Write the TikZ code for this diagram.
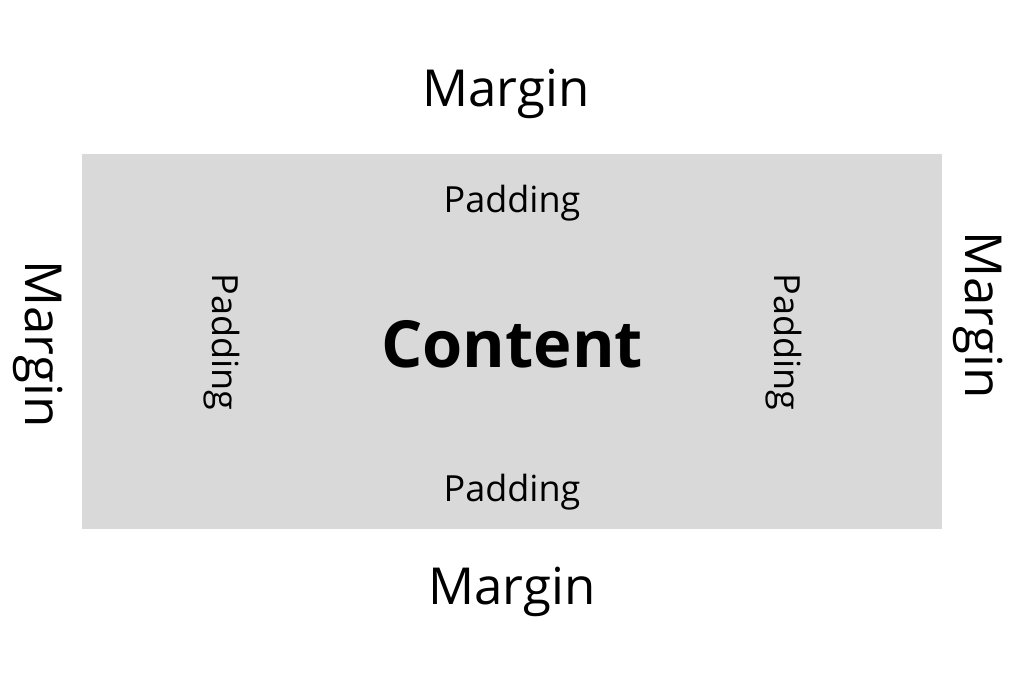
\documentclass[tikz,border=0pt]{standalone}
\usepackage{fontspec}
\setmainfont{Open Sans}
\begin{document}
\begin{tikzpicture}[x=1pt,y=-1pt,
  margintext/.style={font=\fontsize{51}{58}\selectfont, anchor=base, inner sep=0pt},
  paddingtext/.style={font=\fontsize{36}{41}\selectfont, anchor=base, inner sep=0pt},
  contenttext/.style={font=\fontsize{65}{74}\selectfont\bfseries, anchor=base, inner sep=0pt}]
\definecolor{boxgray}{HTML}{D9D9D9}
\useasboundingbox (0,0) rectangle (1024,683);
\fill[white] (0,0) rectangle (1024,683);
% padding box
\fill[boxgray] (82,154) rectangle (942,529);
% content
\node[contenttext] (content) at (512,367) {Content};
% padding labels
\node[paddingtext] (padtop) at (512,212) {Padding};
\node[paddingtext] (padbot) at (512,501) {Padding};
\node[paddingtext, rotate=-90] (padleft) at (212,342) {Padding};
\node[paddingtext, rotate=-90] (padright) at (774,342) {Padding};
% margin labels
\node[margintext] (martop) at (506,106) {Margin};
\node[margintext] (marbot) at (512,604) {Margin};
\node[margintext, rotate=-90] (marleft) at (25,344) {Margin};
\node[margintext, rotate=-90] (marright) at (965,315) {Margin};
\end{tikzpicture}
\end{document}
